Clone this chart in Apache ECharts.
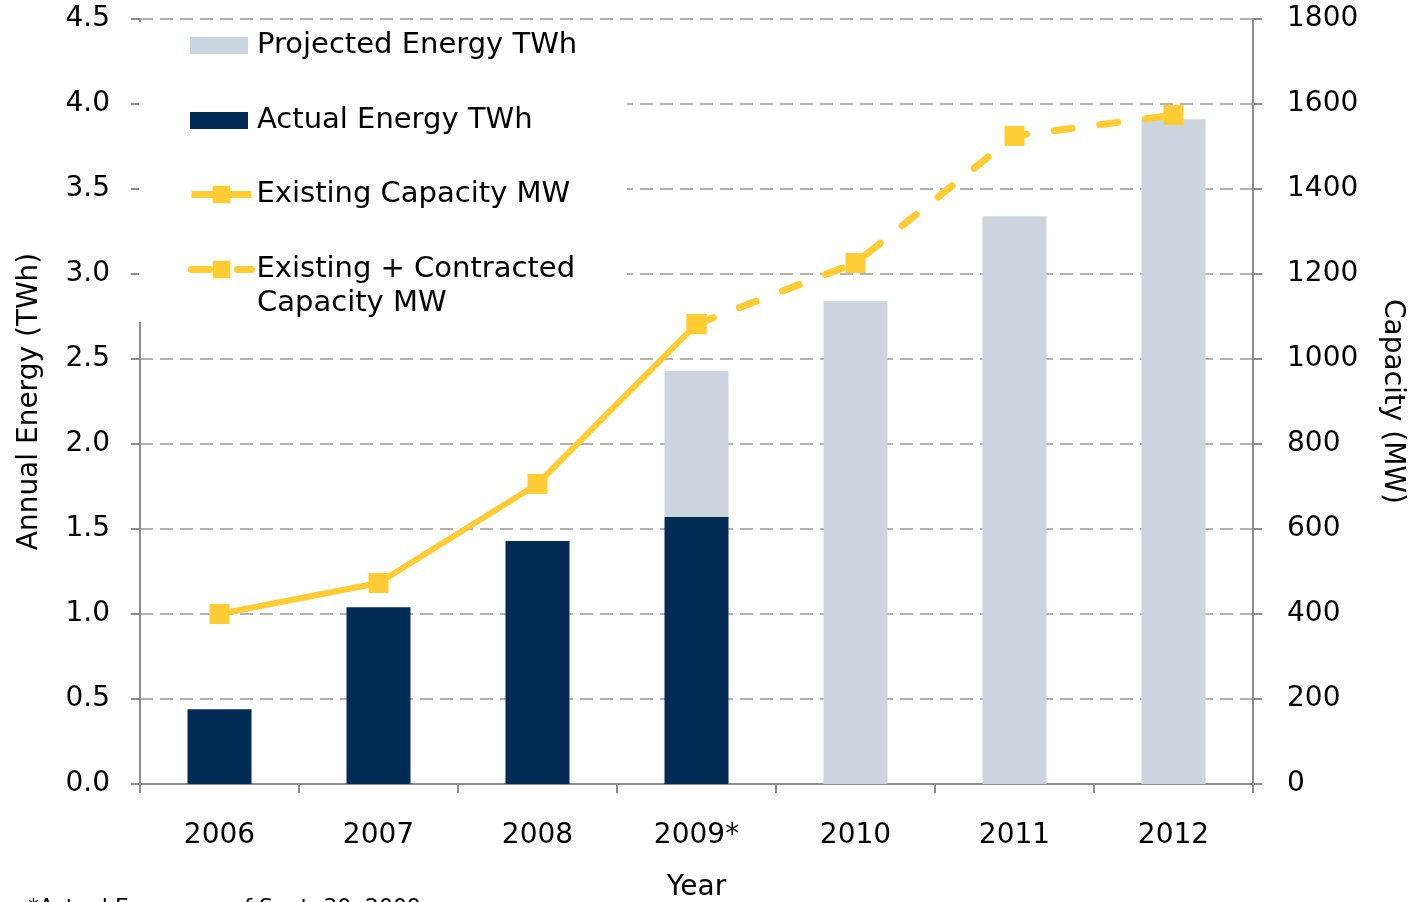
<!DOCTYPE html>
<html>
<head>
<meta charset="utf-8">
<script src="https://cdn.jsdelivr.net/npm/echarts@6/dist/echarts.min.js"></script>
<style>
  html, body { margin: 0; padding: 0; background: #fff; }
  #chart { width: 1414px; height: 902px; }
</style>
</head>
<body>
<div id="chart"></div>
<script>
// Data
const years = ['2006', '2007', '2008', '2009*', '2010', '2011', '2012'];
const actualEnergy = [0.44, 1.04, 1.43, 1.57, null, null, null];     // TWh
const projectedTotal = [null, null, null, 2.43, 2.84, 3.34, 3.91];   // TWh (top of light bar)
const existingCapacity = [400, 473, 706, 1082, null, null, null];    // MW
const contractedCapacity = [null, null, null, 1082, 1226, 1525, 1574]; // MW
const energyTicks = [0, 4.5, 0.5];
const capacityTicks = [0, 1800, 200];

const NAVY = '#022c56';
const LIGHT = '#cbd5df';
const YELLOW = '#ffcc33';
const GRAY = '#8c8c8c';
const FONT = 'DejaVu Sans';

// projected bar sits on top of the actual bar in the stack
const projectedPart = projectedTotal.map((v, i) => v == null ? 0 : +(v - (actualEnergy[i] || 0)).toFixed(3));
const actualPart = actualEnergy.map(v => v == null ? 0 : v);
const toLine = arr => arr.map(v => v == null ? '-' : v);

const legendText = { fontFamily: FONT, fontSize: 29, color: '#000', lineHeight: 35 };

const chart = echarts.init(document.getElementById('chart'));

const option = {
  animation: false,
  textStyle: { fontFamily: FONT, color: '#000' },
  grid: { left: 140, right: 161, top: 19, bottom: 118, outerBoundsMode: 'none' },
  legend: [
    {
      // bar items
      left: 190,
      top: 28,
      padding: 0,
      orient: 'vertical',
      icon: 'rect',
      itemWidth: 58,
      itemHeight: 17,
      itemGap: 40,
      z: 10,
      textStyle: Object.assign({ padding: [0, 0, 0, 4] }, legendText),
      data: ['Projected Energy TWh', 'Actual Energy TWh']
    },
    {
      // line items
      left: 188,
      top: 177,
      padding: 0,
      orient: 'vertical',
      itemWidth: 60,
      itemHeight: 22,
      itemGap: 40,
      z: 10,
      lineStyle: { width: 7 },
      textStyle: legendText,
      data: ['Existing Capacity MW', 'Existing + Contracted Capacity MW'],
      formatter: name => name === 'Existing + Contracted Capacity MW' ? 'Existing + Contracted' : name
    }
  ],
  graphic: [
    {
      type: 'rect',
      z: 3,
      shape: { x: 139, y: 22, width: 488, height: 300 },
      style: { fill: '#fff' }
    },
    {
      type: 'text',
      z: 11,
      left: 257,
      top: 289,
      style: { text: 'Capacity MW', font: '29px "DejaVu Sans"', fill: '#000' }
    },
    {
      type: 'text',
      left: 28,
      top: 897,
      style: { text: '*Actual Energy as of Sept. 30, 2009', font: '22px "DejaVu Sans"', fill: '#000' }
    }
  ],
  xAxis: {
    type: 'category',
    data: years,
    name: 'Year',
    nameLocation: 'middle',
    nameGap: 90,
    nameTextStyle: { fontSize: 28, fontFamily: FONT, color: '#000' },
    axisLine: { lineStyle: { color: GRAY, width: 2 } },
    axisTick: { show: true, length: 9, lineStyle: { color: GRAY, width: 2 } },
    axisLabel: { fontSize: 28, fontFamily: FONT, color: '#000', margin: 38 }
  },
  yAxis: [
    {
      type: 'value',
      min: energyTicks[0],
      max: energyTicks[1],
      interval: energyTicks[2],
      name: 'Annual Energy (TWh)',
      nameLocation: 'middle',
      nameGap: 96,
      nameTextStyle: { fontSize: 28, fontFamily: FONT, color: '#000' },
      axisLine: { show: true, lineStyle: { color: GRAY, width: 2 } },
      axisTick: { show: true, length: 9, lineStyle: { color: GRAY, width: 2 } },
      axisLabel: { fontSize: 28, fontFamily: FONT, color: '#000', margin: 30, formatter: v => v.toFixed(1) },
      splitLine: { show: true, lineStyle: { color: '#999', width: 1.5, type: [13, 7] } }
    },
    {
      type: 'value',
      min: capacityTicks[0],
      max: capacityTicks[1],
      interval: capacityTicks[2],
      name: 'Capacity (MW)',
      nameLocation: 'middle',
      nameGap: 125,
      nameRotate: -90,
      nameTextStyle: { fontSize: 28, fontFamily: FONT, color: '#000' },
      axisLine: { show: true, lineStyle: { color: GRAY, width: 2 } },
      axisTick: { show: true, length: 9, lineStyle: { color: GRAY, width: 2 } },
      axisLabel: { fontSize: 28, fontFamily: FONT, color: '#000', margin: 34, formatter: v => String(v) },
      splitLine: { show: false }
    }
  ],
  series: [
    {
      name: 'Actual Energy TWh',
      type: 'bar',
      stack: 'energy',
      barWidth: 64,
      itemStyle: { color: NAVY },
      data: actualPart
    },
    {
      name: 'Projected Energy TWh',
      type: 'bar',
      stack: 'energy',
      barWidth: 64,
      itemStyle: { color: LIGHT },
      data: projectedPart
    },
    {
      name: 'Existing Capacity MW',
      type: 'line',
      yAxisIndex: 1,
      symbol: 'rect',
      symbolSize: 20,
      z: 5,
      lineStyle: { color: YELLOW, width: 6 },
      itemStyle: { color: YELLOW },
      data: toLine(existingCapacity)
    },
    {
      name: 'Existing + Contracted Capacity MW',
      type: 'line',
      yAxisIndex: 1,
      symbol: 'rect',
      symbolSize: 20,
      z: 5,
      lineStyle: { color: YELLOW, width: 7, type: [18, 28], cap: 'round' },
      itemStyle: { color: YELLOW },
      data: toLine(contractedCapacity)
    }
  ]
};

chart.setOption(option);
</script>
</body>
</html>
